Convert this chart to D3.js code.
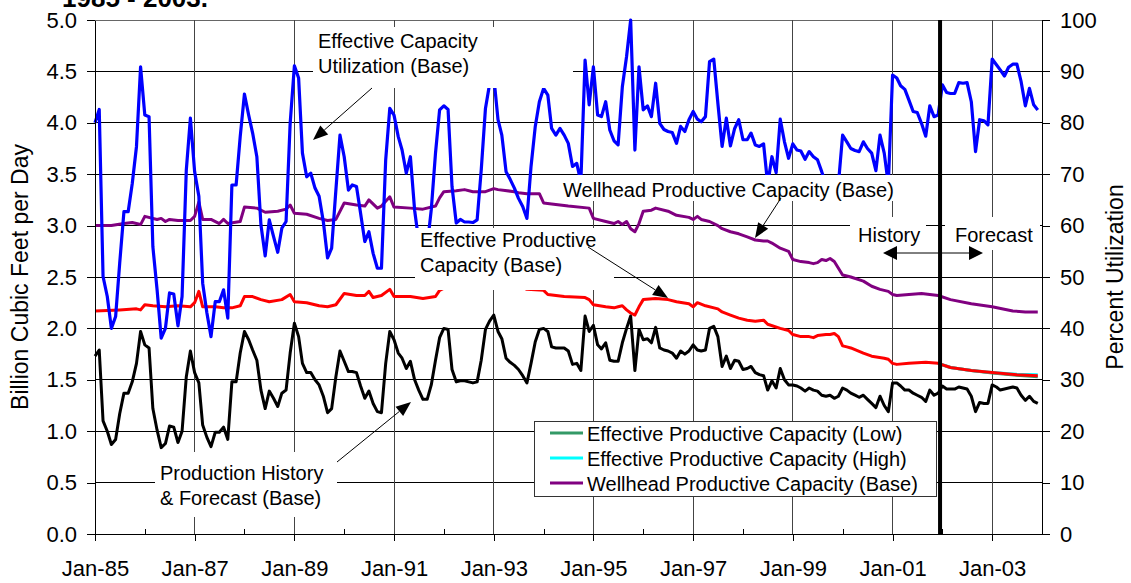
<!DOCTYPE html>
<meta charset="utf-8">
<script src="https://cdn.jsdelivr.net/npm/d3@7"></script>
<style>
  body { margin: 0; background: #fff; }
  svg { font-family: "Liberation Sans", Arial, sans-serif; }
</style>
<div id="chart"></div>
<script>

var width = 1131, height = 583;

// ---- data (monthly from Jan-85) ----
// production history & forecast, Bcf/d
var production = [
  1.73,1.79,1.10,1.00,0.87,0.92,1.17,1.37,1.37,1.48,1.66,1.97,
  1.84,1.81,1.22,1.01,0.84,0.88,1.05,1.04,0.89,1.00,1.53,1.78,
  1.57,1.47,1.06,0.94,0.85,0.99,0.99,1.04,0.92,1.48,1.48,1.76,
  1.97,1.89,1.79,1.69,1.40,1.22,1.39,1.32,1.24,1.37,1.40,1.76,
  2.05,1.92,1.66,1.57,1.57,1.50,1.45,1.34,1.18,1.22,1.53,1.78,
  1.68,1.58,1.58,1.57,1.44,1.32,1.39,1.27,1.19,1.18,1.66,1.97,
  1.89,1.76,1.71,1.61,1.68,1.50,1.40,1.31,1.31,1.45,1.69,1.91,
  2.00,1.99,1.60,1.48,1.49,1.49,1.48,1.47,1.48,1.69,1.99,2.07,
  2.13,1.97,1.90,1.71,1.67,1.64,1.60,1.54,1.47,1.66,1.87,1.99,
  2.00,1.97,1.82,1.81,1.81,1.81,1.78,1.65,1.66,1.59,2.12,1.97,
  2.03,1.84,1.80,1.86,1.69,1.68,1.68,1.86,2.00,2.12,1.59,1.99,
  1.89,1.90,1.86,2.01,1.81,1.79,1.78,1.76,1.71,1.78,1.75,1.78,
  1.84,1.79,1.78,1.79,2.00,2.02,1.92,1.63,1.73,1.61,1.69,1.68,
  1.60,1.61,1.63,1.57,1.55,1.54,1.40,1.49,1.42,1.61,1.50,1.45,
  1.45,1.44,1.42,1.39,1.42,1.40,1.39,1.35,1.34,1.35,1.32,1.34,
  1.42,1.40,1.37,1.35,1.33,1.35,1.31,1.27,1.23,1.34,1.25,1.19,
  1.47,1.47,1.44,1.40,1.40,1.37,1.35,1.33,1.29,1.40,1.35,1.37,
  1.44,1.41,1.41,1.41,1.43,1.42,1.41,1.34,1.19,1.28,1.27,1.27,
  1.45,1.43,1.40,1.41,1.42,1.43,1.42,1.35,1.30,1.34,1.29,1.27
];

// effective capacity utilization, percent
var utilization = [
  80.0,82.6,50.1,46.2,40.0,42.3,52.7,62.7,62.7,68.2,75.4,90.9,
  81.5,81.2,55.9,47.5,38.1,40.0,46.9,46.7,40.5,46.2,70.8,80.9,
  70.5,65.7,48.8,43.0,38.4,45.2,45.2,47.5,42.0,67.9,67.9,77.3,
  85.6,81.5,78.0,73.4,60.1,54.1,61.1,57.9,54.8,59.5,60.8,79.9,
  91.1,88.7,74.1,69.5,70.2,67.3,65.7,60.8,53.7,55.6,66.9,77.6,
  73.4,66.9,67.9,67.6,62.4,56.9,58.8,54.6,51.7,51.7,72.8,82.8,
  81.5,77.3,74.7,70.2,73.4,63.0,57.0,55.0,56.0,63.1,74.1,82.5,
  83.3,82.6,67.6,60.5,61.2,60.7,60.7,60.6,61.1,70.8,82.8,87.5,
  89.0,80.6,77.6,70.5,69.0,67.3,65.3,63.7,61.4,71.5,79.3,84.1,
  86.7,85.4,78.9,77.6,78.9,77.6,76.0,71.5,72.1,68.5,92.2,83.5,
  90.9,81.5,81.2,84.1,78.6,76.5,75.7,87.0,92.9,100.0,74.7,90.9,
  82.5,83.3,81.2,87.7,79.9,78.7,78.3,78.1,76.0,79.3,78.3,80.6,
  82.2,80.7,80.2,81.2,91.9,92.4,83.8,75.4,80.9,75.5,78.9,80.6,
  76.7,76.7,78.0,75.7,75.4,75.9,68.0,73.4,70.3,80.7,76.3,73.1,
  75.9,74.7,74.5,72.9,74.4,73.4,72.8,70.5,68.0,67.0,66.0,68.0,
  77.6,76.3,75.0,74.6,74.4,76.3,75.0,74.1,70.7,77.6,74.1,68.0,
  89.3,88.7,87.2,86.5,84.4,82.2,82.0,79.9,77.4,83.3,81.2,81.5,
  87.4,85.9,85.7,85.7,87.8,87.7,87.8,84.1,74.4,80.6,80.4,79.6,
  92.4,91.3,90.3,89.1,90.8,91.4,91.4,88.0,83.3,86.7,83.5,82.5
];

// capacity curves: [months after Jan-85, Bcf/d]
var effCapBase = [
  [0,2.17],[6,2.18],[10,2.19],[11,2.18],[12,2.23],[14,2.22],[17,2.21],[20,2.22],[23,2.21],[24,2.25],
  [25,2.36],[26,2.21],[29,2.21],[31,2.20],[33,2.20],[35,2.22],[36,2.31],[38,2.31],[40,2.28],[42,2.26],
  [45,2.28],[47,2.33],[48,2.26],[51,2.25],[54,2.22],[56,2.21],[58,2.23],[60,2.34],[63,2.32],[65,2.32],
  [66,2.36],[67,2.30],[69,2.32],[71,2.38],[72,2.31],[76,2.31],[79,2.29],[82,2.31],[83,2.37],[85,2.41],
  [95,2.42],[103,2.40],[104,2.38],[108,2.37],[109,2.33],[113,2.31],[118,2.30],[119,2.28],[120,2.23],
  [123,2.21],[125,2.20],[126,2.21],[127,2.22],[128,2.18],[129,2.15],[130,2.13],[131,2.21],[132,2.28],
  [135,2.29],[138,2.28],[140,2.26],[143,2.24],[144,2.21],[145,2.25],[147,2.22],[150,2.19],[151,2.16],
  [153,2.13],[155,2.10],[157,2.08],[159,2.07],[161,2.08],[162,2.04],[165,2.00],[167,1.98],[168,1.94],
  [170,1.92],[172,1.92],[173,1.91],[174,1.93],[176,1.94],[177,1.94],[178,1.95],[179,1.92],[180,1.83],
  [181,1.82],[182,1.81],[185,1.76],[187,1.73],[190,1.71],[191,1.70],[192,1.66],[193,1.65],[196,1.66],
  [200,1.67],[203,1.66],[206,1.62],[211,1.59],[216,1.57],[222,1.55],[227,1.54]
];
var effCapLow = [[203,1.66],[206,1.62],[211,1.59],[216,1.565],[222,1.545],[227,1.53]];
var effCapHigh = [[203,1.66],[206,1.62],[211,1.59],[216,1.57],[222,1.555],[227,1.55]];
var wellCapBase = [
  [0,3.00],[4,3.00],[7,3.02],[9,3.03],[11,3.01],[12,3.09],[15,3.06],[16,3.07],[17,3.04],[18,3.06],
  [20,3.05],[23,3.05],[24,3.09],[25,3.23],[26,3.06],[28,3.06],[30,3.02],[31,3.06],[32,3.02],[35,3.04],
  [36,3.18],[39,3.17],[41,3.13],[44,3.14],[46,3.16],[47,3.20],[48,3.12],[51,3.11],[54,3.07],[56,3.05],
  [58,3.06],[60,3.22],[63,3.20],[65,3.19],[66,3.25],[68,3.17],[69,3.19],[71,3.28],[72,3.18],[76,3.17],
  [79,3.16],[82,3.19],[83,3.27],[84,3.33],[87,3.34],[89,3.35],[91,3.33],[94,3.33],[96,3.36],[97,3.35],
  [101,3.33],[102,3.32],[104,3.31],[107,3.31],[108,3.22],[110,3.21],[114,3.19],[119,3.17],[120,3.07],
  [123,3.04],[125,3.02],[126,3.04],[127,3.01],[128,3.04],[129,2.97],[130,2.94],[131,3.02],[132,3.14],
  [134,3.15],[135,3.17],[138,3.14],[140,3.10],[143,3.08],[144,3.06],[145,3.09],[146,3.06],[148,3.04],
  [150,3.00],[151,2.97],[153,2.94],[155,2.92],[157,2.89],[159,2.86],[161,2.85],[162,2.85],[163,2.83],
  [165,2.78],[167,2.75],[168,2.67],[170,2.65],[172,2.64],[173,2.63],[174,2.64],[175,2.67],[176,2.66],
  [177,2.68],[178,2.65],[180,2.52],[181,2.51],[182,2.50],[185,2.46],[187,2.41],[189,2.38],[191,2.36],
  [192,2.33],[193,2.32],[196,2.33],[199,2.34],[203,2.32],[206,2.28],[211,2.24],[216,2.21],[221,2.17],
  [224,2.16],[227,2.16]
];

var leftTicks = [0,0.5,1,1.5,2,2.5,3,3.5,4,4.5,5];
var rightTicks = [0,10,20,30,40,50,60,70,80,90,100];
var majorYears = [1985,1987,1989,1991,1993,1995,1997,1999,2001,2003];
var minorYears = [1986,1988,1990,1992,1994,1996,1998,2000,2002];
var forecastStart = new Date(2001, 11, 15);

var legendItems = [
  {name: "Effective Productive Capacity (Low)", color: "#339966"},
  {name: "Effective Productive Capacity (High)", color: "#00ffff"},
  {name: "Wellhead Productive Capacity (Base)", color: "#800080"}
];

// ---- scales ----
var start = new Date(1985, 0, 1);
var monthDate = function(m) { return d3.timeMonth.offset(start, m); };

var x = d3.scaleTime().domain([start, new Date(2004, 0, 1)]).range([95, 1042]);
var y = d3.scaleLinear().domain([0, 5]).range([534, 20]);
var y2 = d3.scaleLinear().domain([0, 100]).range([534, 20]);

var svg = d3.select("#chart").append("svg")
  .attr("width", width)
  .attr("height", height);

// title cut off at the top
svg.append("text")
  .attr("x", 62).attr("y", 7)
  .style("font-size", "26px").style("font-weight", "bold")
  .text("1985 - 2003.");

// grid
var grid = svg.append("g").attr("shape-rendering", "crispEdges");
grid.selectAll("line.h")
  .data(leftTicks.filter(function(d) { return d > 0; }))
  .join("line")
  .attr("class", "h")
  .attr("x1", 95).attr("x2", 1042)
  .attr("y1", function(d) { return y(d); }).attr("y2", function(d) { return y(d); })
  .attr("stroke", function(d) { return d == 5 ? "#666" : "#000"; });
grid.selectAll("line.v")
  .data(majorYears.slice(1))
  .join("line")
  .attr("class", "v")
  .attr("x1", function(d) { return x(new Date(d, 0, 1)); })
  .attr("x2", function(d) { return x(new Date(d, 0, 1)); })
  .attr("y1", 20).attr("y2", 534)
  .attr("stroke", "#444");

// lines
var capLine = d3.line()
  .x(function(d) { return x(monthDate(d[0])); })
  .y(function(d) { return y(d[1]); });
var prodLine = d3.line()
  .x(function(d, i) { return x(monthDate(i)); })
  .y(function(d) { return y(d); });
var utilLine = d3.line()
  .x(function(d, i) { return x(monthDate(i)); })
  .y(function(d) { return y2(d); });

var series = svg.append("g")
  .attr("fill", "none")
  .attr("stroke-linejoin", "round");

series.append("path").datum(wellCapBase).attr("d", capLine)
  .attr("stroke", "#800080").attr("stroke-width", 3);
series.append("path").datum(effCapLow).attr("d", capLine)
  .attr("stroke", "#339966").attr("stroke-width", 3);
series.append("path").datum(effCapHigh).attr("d", capLine)
  .attr("stroke", "#00ffff").attr("stroke-width", 3);
series.append("path").datum(effCapBase).attr("d", capLine)
  .attr("stroke", "#ff0000").attr("stroke-width", 3);
series.append("path").datum(production).attr("d", prodLine)
  .attr("stroke", "#000").attr("stroke-width", 3);
series.append("path").datum(utilization).attr("d", utilLine)
  .attr("stroke", "#0000ff").attr("stroke-width", 3.2);

// annotations (text boxes sit on top of the lines, as in the original)
var notes = [
  {box: [313, 27, 260, 61], tx: 318, lines: ["Effective Capacity", "Utilization (Base)"], ty: 48},
  {box: [556, 175, 346, 26], tx: 563, lines: ["Wellhead Productive Capacity (Base)"], ty: 197},
  {box: [415, 228, 199, 62], tx: 420, lines: ["Effective Productive", "Capacity (Base)"], ty: 247},
  {box: [155, 452, 182, 65], tx: 160, lines: ["Production History", "& Forecast (Base)"], ty: 480},
  {box: [850, 217, 76, 33], tx: 858, lines: ["History"], ty: 242},
  {box: [945, 217, 95, 33], tx: 955, lines: ["Forecast"], ty: 242}
];

var ann = svg.append("g");
notes.forEach(function(n) {
  ann.append("rect")
    .attr("x", n.box[0]).attr("y", n.box[1])
    .attr("width", n.box[2]).attr("height", n.box[3])
    .attr("fill", "#fff");
  n.lines.forEach(function(t, i) {
    ann.append("text")
      .attr("x", n.tx).attr("y", n.ty + i * 25)
      .style("font-size", "20px")
      .text(t);
  });
});

function arrow(x1, y1, x2, y2, len, half) {
  var a = Math.atan2(y2 - y1, x2 - x1);
  var bx = x2 - len * Math.cos(a), by = y2 - len * Math.sin(a);
  ann.append("line")
    .attr("x1", x1).attr("y1", y1).attr("x2", bx).attr("y2", by)
    .attr("stroke", "#000").attr("stroke-width", 1);
  var px = -Math.sin(a) * half, py = Math.cos(a) * half;
  ann.append("path")
    .attr("d", "M" + x2 + "," + y2 + "L" + (bx + px) + "," + (by + py) + "L" + (bx - px) + "," + (by - py) + "Z")
    .attr("fill", "#000");
}

arrow(372, 88, 313, 140, 15, 6);
arrow(781, 198, 755, 238, 15, 6);
arrow(588, 247, 668, 298, 15, 6);
arrow(337, 462, 411, 402, 15, 6);

var xf = x(forecastStart);
arrow(xf, 253, 883, 253, 14, 7);
arrow(xf, 253, 983, 253, 14, 7);

// history / forecast divider
svg.append("line")
  .attr("x1", xf).attr("x2", xf)
  .attr("y1", 20).attr("y2", 534)
  .attr("stroke", "#000").attr("stroke-width", 4);

// legend
var legend = svg.append("g");
legend.append("rect")
  .attr("x", 534.5).attr("y", 421.5)
  .attr("width", 402).attr("height", 75)
  .attr("fill", "#fff").attr("stroke", "#333");
legend.selectAll("line")
  .data(legendItems)
  .join("line")
  .attr("x1", 550).attr("x2", 583)
  .attr("y1", function(d, i) { return 433 + i * 25; })
  .attr("y2", function(d, i) { return 433 + i * 25; })
  .attr("stroke", function(d) { return d.color; })
  .attr("stroke-width", 3);
legend.selectAll("text")
  .data(legendItems)
  .join("text")
  .attr("x", 587)
  .attr("y", function(d, i) { return 441 + i * 25; })
  .style("font-size", "20px")
  .text(function(d) { return d.name; });

// axes
var fmt = d3.timeFormat("%b-%y");

var leftAxis = svg.append("g")
  .attr("transform", "translate(95,0)")
  .call(d3.axisLeft(y).tickValues(leftTicks).tickFormat(d3.format(".1f")).tickSize(8).tickSizeOuter(0).tickPadding(10));

var rightAxis = svg.append("g")
  .attr("transform", "translate(1042,0)")
  .call(d3.axisRight(y2).tickValues(rightTicks).tickFormat(d3.format("d")).tickSize(8).tickSizeOuter(0).tickPadding(10));

var bottomAxis = svg.append("g")
  .attr("transform", "translate(0,534)")
  .call(d3.axisBottom(x).tickValues(majorYears.map(function(d) { return new Date(d, 0, 1); }))
    .tickFormat(fmt).tickSize(7).tickSizeOuter(0).tickPadding(19));

var minorAxis = svg.append("g")
  .attr("transform", "translate(0,534)")
  .call(d3.axisBottom(x).tickValues(minorYears.map(function(d) { return new Date(d, 0, 1); }))
    .tickFormat("").tickSize(-5).tickSizeOuter(0));
minorAxis.select(".domain").remove();

svg.selectAll(".tick text")
  .style("font-size", "22px")
  .style("font-family", "'Liberation Sans', Arial, sans-serif")
  .attr("fill", "#000");
svg.selectAll(".domain, .tick line")
  .attr("stroke", "#000")
  .attr("shape-rendering", "crispEdges");

// axis titles
svg.append("text")
  .attr("transform", "translate(28,277) rotate(-90)")
  .attr("text-anchor", "middle")
  .style("font-size", "23px")
  .text("Billion Cubic Feet per Day");

svg.append("text")
  .attr("transform", "translate(1123,277) rotate(-90)")
  .attr("text-anchor", "middle")
  .style("font-size", "23px")
  .text("Percent Utilization");

</script>
